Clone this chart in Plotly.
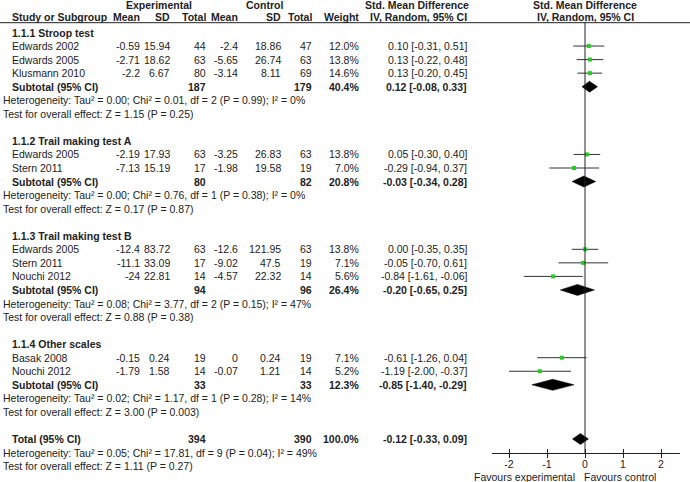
import plotly.graph_objects as go

# ---------------- data ----------------
group_titles = ["1.1.1 Stroop test", "1.1.2 Trail making test A",
                "1.1.3 Trail making test B", "1.1.4 Other scales"]
study_group = [0, 0, 0, 1, 1, 2, 2, 2, 3, 3]
study_names = ["Edwards 2002", "Edwards 2005", "Klusmann 2010",
               "Edwards 2005", "Stern 2011",
               "Edwards 2005", "Stern 2011", "Nouchi 2012",
               "Basak 2008", "Nouchi 2012"]
exp_mean = [-0.59, -2.71, -2.2, -2.19, -7.13, -12.4, -11.1, -24, -0.15, -1.79]
exp_sd = [15.94, 18.62, 6.67, 17.93, 15.19, 83.72, 33.09, 22.81, 0.24, 1.58]
exp_n = [44, 63, 80, 63, 17, 63, 17, 14, 19, 14]
ctl_mean = [-2.4, -5.65, -3.14, -3.25, -1.98, -12.6, -9.02, -4.57, 0, -0.07]
ctl_sd = [18.86, 26.74, 8.11, 26.83, 19.58, 121.95, 47.5, 22.32, 0.24, 1.21]
ctl_n = [47, 63, 69, 63, 19, 63, 19, 14, 19, 14]
weight = [12.0, 13.8, 14.6, 13.8, 7.0, 13.8, 7.1, 5.6, 7.1, 5.2]
smd = [0.10, 0.13, 0.13, 0.05, -0.29, 0.00, -0.05, -0.84, -0.61, -1.19]
ci_lo = [-0.31, -0.22, -0.20, -0.30, -0.94, -0.35, -0.70, -1.61, -1.26, -2.00]
ci_hi = [0.51, 0.48, 0.45, 0.40, 0.37, 0.35, 0.61, -0.06, 0.04, -0.37]

sub_exp_n = [187, 80, 94, 33]
sub_ctl_n = [179, 82, 96, 33]
sub_weight = [40.4, 20.8, 26.4, 12.3]
sub_smd = [0.12, -0.03, -0.20, -0.85]
sub_lo = [-0.08, -0.34, -0.65, -1.40]
sub_hi = [0.33, 0.28, 0.25, -0.29]
sub_tau2 = ["0.00", "0.00", "0.08", "0.02"]
sub_chi2 = ["0.01", "0.76", "3.77", "1.17"]
sub_df = [2, 1, 2, 1]
sub_p_het = ["0.99", "0.38", "0.15", "0.28"]
sub_i2 = [0, 0, 47, 14]
sub_z = ["1.15", "0.17", "0.88", "3.00"]
sub_p_z = ["0.25", "0.87", "0.38", "0.003"]

total_exp_n = 394
total_ctl_n = 390
total_weight = 100.0
total_smd = -0.12
total_lo = -0.33
total_hi = 0.09
total_tau2 = "0.05"
total_chi2 = "17.81"
total_df = 9
total_p_het = "0.04"
total_i2 = 49
total_z = "1.11"
total_p_z = "0.27"

tick_values = [-2, -1, 0, 1, 2]
tick_labels = ["-2", "-1", "0", "1", "2"]
favours_left = "Favours experimental"
favours_right = "Favours control"

# ---------------- layout constants ----------------
W, H = 690, 482
ROW0 = 32.5      # pixel y of first row
ROWH = 13.55     # pixel per row
AXIS_Y = 453     # pixel y of x-axis line
X0_PX = 585      # pixel x of SMD = 0
UNIT = 38        # pixels per SMD unit
AX_L, AX_R = 492, 680
FONT = "Liberation Sans, Arial, sans-serif"
FS = 10.5
TXT = "#222222"

col_right = {"exp_mean": 142, "exp_sd": 172, "exp_n": 208,
             "ctl_mean": 240, "ctl_sd": 283, "ctl_n": 314,
             "weight": 361, "ci": 469}
NAME_X = 10
NOTE_X = 1

annotations = []


def txt(x_px, row, s, anchor="right", bold=False):
    annotations.append(dict(
        x=x_px / W, xref="paper", y=row, yref="y",
        text=("<b>%s</b>" % s) if bold else s,
        xanchor=anchor, yanchor="middle", showarrow=False,
        font=dict(family=FONT, size=FS, color=TXT)))


def fmt(v):
    return f"{v:g}"


def ci_text(e, lo, hi):
    return f"{e:.2f} [{lo:.2f}, {hi:.2f}]"


# ---------------- headers ----------------
r_h1 = (5 - ROW0) / ROWH
r_h2 = (17.3 - ROW0) / ROWH
r_line = (22.7 - ROW0) / ROWH
txt(159, r_h1, "Experimental", "center", True)
txt(264, r_h1, "Control", "center", True)
txt(417, r_h1, "Std. Mean Difference", "center", True)
txt(X0_PX, r_h1, "Std. Mean Difference", "center", True)
txt(NAME_X, r_h2, "Study or Subgroup", "left", True)
txt(col_right["exp_mean"], r_h2, "Mean", bold=True)
txt(col_right["exp_sd"], r_h2, "SD", bold=True)
txt(col_right["exp_n"], r_h2, "Total", bold=True)
txt(col_right["ctl_mean"], r_h2, "Mean", bold=True)
txt(col_right["ctl_sd"], r_h2, "SD", bold=True)
txt(col_right["ctl_n"], r_h2, "Total", bold=True)
txt(col_right["weight"], r_h2, "Weight", bold=True)
txt(col_right["ci"], r_h2, "IV, Random, 95% CI", bold=True)
txt(X0_PX, r_h2, "IV, Random, 95% CI", "center", True)

# ---------------- body ----------------
pt_rows, pt_x, ln_x, ln_y = [], [], [], []
dia_x, dia_y = [], []
DH = 0.41

row = 0
for g, title in enumerate(group_titles):
    txt(NAME_X, row, title, "left", True)
    row += 1
    for i in range(len(study_names)):
        if study_group[i] != g:
            continue
        txt(NAME_X, row, study_names[i], "left")
        txt(col_right["exp_mean"], row, fmt(exp_mean[i]))
        txt(col_right["exp_sd"], row, fmt(exp_sd[i]))
        txt(col_right["exp_n"], row, str(exp_n[i]))
        txt(col_right["ctl_mean"], row, fmt(ctl_mean[i]))
        txt(col_right["ctl_sd"], row, fmt(ctl_sd[i]))
        txt(col_right["ctl_n"], row, str(ctl_n[i]))
        txt(col_right["weight"], row, f"{weight[i]:.1f}%")
        txt(col_right["ci"], row, ci_text(smd[i], ci_lo[i], ci_hi[i]))
        ln_x += [ci_lo[i], ci_hi[i], None]
        ln_y += [row, row, None]
        pt_x.append(smd[i])
        pt_rows.append(row)
        row += 1
    txt(NAME_X, row, "Subtotal (95% CI)", "left", True)
    txt(col_right["exp_n"], row, str(sub_exp_n[g]), bold=True)
    txt(col_right["ctl_n"], row, str(sub_ctl_n[g]), bold=True)
    txt(col_right["weight"], row, f"{sub_weight[g]:.1f}%", bold=True)
    txt(col_right["ci"], row, ci_text(sub_smd[g], sub_lo[g], sub_hi[g]), bold=True)
    dia_x += [sub_lo[g], sub_smd[g], sub_hi[g], sub_smd[g], sub_lo[g], None]
    dia_y += [row, row - DH, row, row + DH, row, None]
    row += 1
    txt(NOTE_X, row, f"Heterogeneity: Tau² = {sub_tau2[g]}; Chi² = {sub_chi2[g]}, "
        f"df = {sub_df[g]} (P = {sub_p_het[g]}); I² = {sub_i2[g]}%", "left")
    row += 1
    txt(NOTE_X, row, f"Test for overall effect: Z = {sub_z[g]} (P = {sub_p_z[g]})", "left")
    row += 2

txt(NAME_X, row, "Total (95% CI)", "left", True)
txt(col_right["exp_n"], row, str(total_exp_n), bold=True)
txt(col_right["ctl_n"], row, str(total_ctl_n), bold=True)
txt(col_right["weight"], row, f"{total_weight:.1f}%", bold=True)
txt(col_right["ci"], row, ci_text(total_smd, total_lo, total_hi), bold=True)
dia_x += [total_lo, total_smd, total_hi, total_smd, total_lo, None]
dia_y += [row, row - DH, row, row + DH, row, None]
row += 1
txt(NOTE_X, row, f"Heterogeneity: Tau² = {total_tau2}; Chi² = {total_chi2}, "
    f"df = {total_df} (P = {total_p_het}); I² = {total_i2}%", "left")
row += 1
txt(NOTE_X, row, f"Test for overall effect: Z = {total_z} (P = {total_p_z})", "left")

# favours labels
for s, xp, anc in [(favours_left, 577, "right"), (favours_right, 582, "left")]:
    annotations.append(dict(x=xp / W, xref="paper", y=1 - 476.5 / H, yref="paper",
                            text=s, xanchor=anc, yanchor="middle", showarrow=False,
                            font=dict(family=FONT, size=FS, color=TXT)))

# ---------------- traces ----------------
fig = go.Figure()
fig.add_trace(go.Scatter(x=ln_x, y=ln_y, mode="lines",
                         line=dict(color="#333333", width=1),
                         hoverinfo="skip", showlegend=False))
fig.add_trace(go.Scatter(x=dia_x, y=dia_y, mode="lines", fill="toself",
                         fillcolor="black", line=dict(color="black", width=0.5),
                         hoverinfo="skip", showlegend=False))
fig.add_trace(go.Scatter(x=pt_x, y=pt_rows, mode="markers",
                         marker=dict(symbol="square", size=4, color="#22cc22",
                                     line=dict(width=0)),
                         showlegend=False))

y_top = -ROW0 / ROWH
y_bot = (H - ROW0) / ROWH
axis_row = (AXIS_Y - ROW0) / ROWH
x_min = (AX_L - X0_PX) / UNIT
x_max = (AX_R - X0_PX) / UNIT

shapes = [
    dict(type="line", xref="paper", yref="y", x0=0, x1=1, y0=r_line, y1=r_line,
         line=dict(color="#222222", width=1)),
    dict(type="line", xref="x", yref="y", x0=0, x1=0, y0=r_line, y1=axis_row,
         line=dict(color="#222222", width=1)),
]

axis_common = dict(range=[x_min, x_max], showgrid=False, zeroline=False,
                   showline=True, linecolor="#222222", linewidth=1,
                   tickvals=tick_values, ticktext=tick_labels,
                   tickcolor="#222222", ticklen=4, tickwidth=1,
                   domain=[AX_L / W, AX_R / W], anchor="free",
                   position=1 - AXIS_Y / H, fixedrange=True)

fig.update_layout(
    width=W, height=H,
    margin=dict(l=0, r=0, t=0, b=0),
    paper_bgcolor="white", plot_bgcolor="rgba(0,0,0,0)",
    xaxis=dict(**axis_common, ticks="outside", ticklabelstandoff=-3,
               tickfont=dict(family=FONT, size=FS, color=TXT)),
    xaxis2=dict(**axis_common, ticks="inside", overlaying="x",
                showticklabels=False, matches="x"),
    yaxis=dict(range=[y_bot, y_top], visible=False, domain=[0, 1],
               fixedrange=True),
    shapes=shapes,
    annotations=annotations,
    showlegend=False,
)
# dummy trace so xaxis2 is drawn
fig.add_trace(go.Scatter(x=[None], y=[None], xaxis="x2", yaxis="y",
                         showlegend=False, hoverinfo="skip"))

fig.write_html("out.html", config={"displayModeBar": False},
               post_script="document.body.style.margin='0';"
                           "document.body.style.padding='0';"
                           "document.body.style.overflow='hidden';")
